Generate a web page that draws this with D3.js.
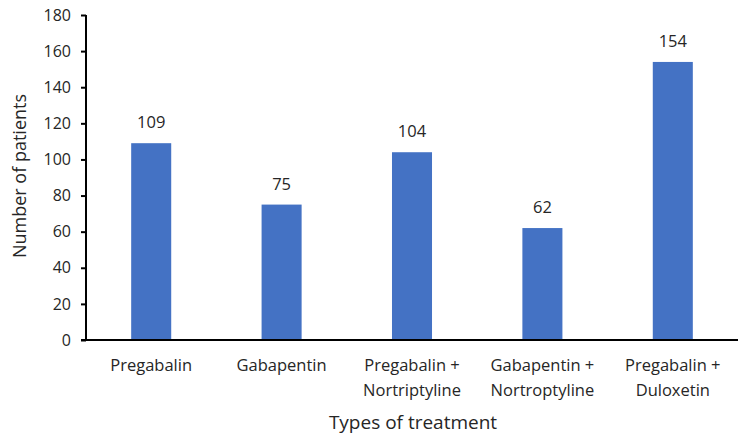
<!DOCTYPE html>
<html><head><meta charset="utf-8">
<script src="https://cdn.jsdelivr.net/npm/d3@7"></script>
<style>body{margin:0;background:#fff}text{font-family:"Open Sans",sans-serif;fill:#262626}</style>
</head><body>
<svg id="c" width="750" height="445"></svg>
<script>
const categories = [["Pregabalin"],["Gabapentin"],["Pregabalin +","Nortriptyline"],["Gabapentin +","Nortroptyline"],["Pregabalin +","Duloxetin"]];
const values = [109, 75, 104, 62, 154];
const yTicks = [0,20,40,60,80,100,120,140,160,180];

const svg = d3.select("#c");
const m = {left:86, right:738, top:15, bottom:340};
const x = d3.scaleBand().domain(d3.range(values.length)).range([m.left, m.right]).paddingInner(0.693).paddingOuter(0.3465);
const y = d3.scaleLinear().domain([0,180]).range([m.bottom, m.top]);

svg.selectAll("rect.bar").data(values).join("rect")
  .attr("x",(d,i)=>x(i)).attr("width",x.bandwidth())
  .attr("y",d=>y(d)).attr("height",d=>y(0)-y(d)).attr("fill","#4472C4");

svg.selectAll("text.val").data(values).join("text")
  .attr("x",(d,i)=>x(i)+x.bandwidth()/2).attr("y",d=>y(d)-15)
  .attr("text-anchor","middle").attr("font-size",16.5).text(d=>d);

const ya = svg.append("g").attr("transform",`translate(${m.left},0)`)
  .call(d3.axisLeft(y).tickValues(yTicks).tickSize(5).tickPadding(10));
ya.select(".domain").attr("stroke","#000").attr("stroke-width",2).attr("d",`M0,${m.top}V${m.bottom}`);
ya.selectAll(".tick line").attr("stroke","#000").attr("stroke-width",2);
ya.selectAll(".tick text").attr("font-size",16).attr("font-family","Open Sans").attr("fill","#262626");

svg.append("line").attr("x1",m.left-5).attr("x2",m.right).attr("y1",y(0)).attr("y2",y(0)).attr("stroke","#000").attr("stroke-width",2);

const cl = svg.selectAll("text.cat").data(categories).join("text")
  .attr("text-anchor","middle").attr("font-size",16.5);
cl.each(function(d,i){
  d3.select(this).selectAll("tspan").data(d).join("tspan")
    .attr("x",x(i)+x.bandwidth()/2).attr("y",(t,j)=>371+j*25).text(t=>t);
});

svg.append("text").attr("x",413).attr("y",429).attr("text-anchor","middle").attr("font-size",19).text("Types of treatment");
svg.append("text").attr("transform","translate(26,176) rotate(-90)").attr("text-anchor","middle").attr("font-size",18).text("Number of patients");
</script>
</body></html>
